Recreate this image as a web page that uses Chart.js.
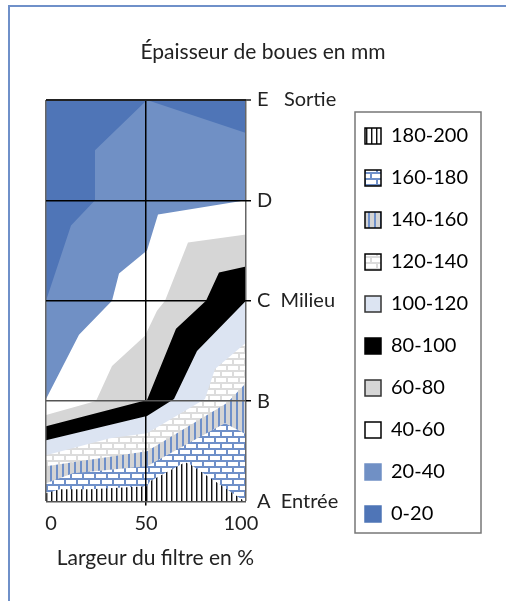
<!DOCTYPE html>
<html>
<head>
<meta charset="utf-8">
<script src="https://cdn.jsdelivr.net/npm/chart.js@4"></script>
<style>
  html, body { margin: 0; padding: 0; background: #fff; overflow: hidden; }
  #page { position: absolute; left: 8px; top: 5px; width: 506px; height: 601px; border-left: 2px solid #6f90c9; border-top: 2px solid #6f90c9; }
  #myChart { position: absolute; left: 0; top: 0; }
</style>
</head>
<body>
<div id="page"></div>
<canvas id="myChart" width="506" height="601"></canvas>
<script>
var categories = ["180-200", "160-180", "140-160", "120-140", "100-120", "80-100", "60-80", "40-60", "20-40", "0-20"];

// upper edge of each band, x = width of filter in %, y = position along the filter (A = 0, E = 100)
var x180 = [0, 7, 22, 50.5, 52, 69.5, 72, 98, 100];
var y180 = [2, 3, 3, 3.75, 5, 9.75, 9.25, 0.5, 0];
var x160 = [0, 13.5, 50.5, 73, 89.5, 100];
var y160 = [4.5, 7, 8.75, 15, 19.5, 16.75];
var x140 = [0, 50.5, 90.5, 100];
var y140 = [8.75, 12.5, 24.5, 29.5];
var x120 = [0, 32, 50.5, 79.5, 84.5, 100];
var y120 = [11.5, 15.75, 17, 25.5, 33, 39.5];
var x100 = [0, 50.5, 64, 75.5, 100];
var y100 = [15.25, 21.25, 25.5, 37.5, 50];
var x80 = [0, 50.5, 65, 80, 86.5, 100];
var y80 = [18.75, 25.25, 43, 50, 57, 58.5];
var x60 = [0, 25, 33, 49.5, 55.5, 59.5, 71, 100];
var y60 = [21.5, 25, 33.75, 41.25, 47.5, 50, 64.5, 66.5];
var x40 = [0, 16.5, 33, 36.5, 50.5, 56, 100];
var y40 = [25.5, 41.5, 50, 56.75, 62.5, 71.5, 75];
var x20 = [0, 12.5, 24.5, 24.5, 50.5, 100];
var y20 = [50, 68.75, 75, 87.5, 100, 91.75];
var x0 = [0, 100];
var y0 = [100, 100];

var bandX = [x180, x160, x140, x120, x100, x80, x60, x40, x20, x0];
var bandY = [y180, y160, y140, y120, y100, y80, y60, y40, y20, y0];

var xTicks = ["  0", "50", "100  "];
var yTicks = ["A  Entrée", "B", "C  Milieu", "D", "E   Sortie"];

function patternCanvas(w, h, draw) {
    var c = document.createElement("canvas");
    c.width = w;
    c.height = h;
    draw(c.getContext("2d"));
    return c.getContext("2d").createPattern(c, "repeat");
}

function bricks(mortar) {
    return patternCanvas(24, 12, function (g) {
        g.fillStyle = "#fff";
        g.fillRect(0, 0, 24, 12);
        g.fillStyle = mortar;
        g.fillRect(0, 4, 24, 2);
        g.fillRect(0, 10, 24, 2);
        g.fillRect(4, 0, 2, 4);
        g.fillRect(16, 0, 2, 4);
        g.fillRect(10, 6, 2, 4);
        g.fillRect(22, 6, 2, 4);
    });
}

var stripesBlack = patternCanvas(5, 4, function (g) {
    g.fillStyle = "#fff";
    g.fillRect(0, 0, 5, 4);
    g.fillStyle = "#111";
    g.fillRect(1, 0, 1, 4);
    g.fillStyle = "#999";
    g.fillRect(2, 0, 1, 4);
});
var stripesBlue = patternCanvas(6, 4, function (g) {
    g.fillStyle = "#d4d4d4";
    g.fillRect(0, 0, 6, 4);
    g.fillStyle = "#6f90c9";
    g.fillRect(2, 0, 2, 4);
});

var bandColors = [stripesBlack, bricks("#6f90c9"), stripesBlue, bricks("#dcdcdc"), "#dce4f2", "#000000", "#d6d6d6", "#ffffff", "#7090c5", "#4f75b7"];
var legendBorders = ["#000", "#000", "#000", "#000", "#333", "#000", "#333", "#000", "#7090c5", "#4f75b7"];

var datasets = categories.map(function (name, i) {
    return {
        label: name,
        data: bandX[i].map(function (x, j) { return { x: x, y: bandY[i][j] }; }),
        backgroundColor: bandColors[i],
        borderWidth: 0,
        pointRadius: 0,
        tension: 0,
        fill: "start"
    };
});

var legendFrame = {
    id: "legendFrame",
    afterLayout: function (chart) {
        var l = chart.legend;
        l.left = 343;
        l.right = 343 + l.width;
        l.top = 104;
    },
    beforeDraw: function (chart) {
        var g = chart.ctx;
        g.save();
        g.strokeStyle = "#777";
        g.lineWidth = 1.5;
        g.strokeRect(355, 112, 126, 421);
        g.restore();
    }
};

var font = "Lato";
var ink = "#222";

new Chart("myChart", {
    type: "line",
    data: { datasets: datasets },
    plugins: [legendFrame],
    options: {
        responsive: false,
        animation: false,
        layout: { padding: { left: 46, right: 26, top: 0, bottom: 0 } },
        plugins: {
            tooltip: { enabled: false },
            title: {
                display: true,
                text: "Épaisseur de boues en mm",
                color: ink,
                font: { family: font, size: 21, weight: "normal" },
                padding: { top: 39.4, bottom: 35.4 }
            },
            subtitle: {
                display: true,
                position: "bottom",
                align: "start",
                text: "  Largeur du filtre en %",
                color: ink,
                font: { family: font, size: 21, weight: "normal" },
                padding: { top: 0, bottom: 30.4 }
            },
            legend: {
                position: "right",
                align: "start",
                maxWidth: 126,
                labels: {
                    boxWidth: 16,
                    boxHeight: 16,
                    padding: 22,
                    color: ink,
                    font: { family: font, size: 20 },
                    generateLabels: function () {
                        return categories.map(function (name, i) {
                            return {
                                text: name,
                                fillStyle: bandColors[i],
                                strokeStyle: legendBorders[i],
                                lineWidth: 1.5,
                                datasetIndex: i
                            };
                        });
                    }
                }
            }
        },
        scales: {
            x: {
                type: "linear",
                min: 0,
                max: 100,
                afterFit: function (s) { s.height = 44; },
                ticks: {
                    stepSize: 50,
                    maxRotation: 0,
                    color: ink,
                    padding: 6,
                    font: { family: font, size: 20 },
                    callback: function (v) { return xTicks[v / 50]; }
                },
                grid: {
                    z: 1,
                    lineWidth: 1.5,
                    tickLength: 4,
                    color: function (c) { return c.tick && c.tick.value === 50 ? "#000" : "#666"; },
                    tickColor: function (c) { return c.tick && c.tick.value === 50 ? "#000" : "rgba(0,0,0,0)"; }
                },
                border: { display: false }
            },
            y: {
                position: "right",
                min: 0,
                max: 100,
                afterFit: function (s) { s.width = 108; },
                ticks: {
                    stepSize: 25,
                    color: ink,
                    padding: 6,
                    font: { family: font, size: 20 },
                    callback: function (v) { return yTicks[v / 25]; }
                },
                grid: {
                    z: 1,
                    lineWidth: function (c) { return c.tick && c.tick.value === 100 ? 2 : 1.5; },
                    tickLength: 5,
                    color: function (c) {
                        var v = c.tick && c.tick.value;
                        return v === 100 ? "#222" : v === 0 || v === 25 ? "#555" : "#000";
                    },
                    tickColor: function (c) {
                        var v = c.tick && c.tick.value;
                        return v === 0 ? "rgba(0,0,0,0)" : v === 100 ? "#555" : "#000";
                    }
                },
                border: { display: false }
            }
        }
    }
});
</script>
</body>
</html>
